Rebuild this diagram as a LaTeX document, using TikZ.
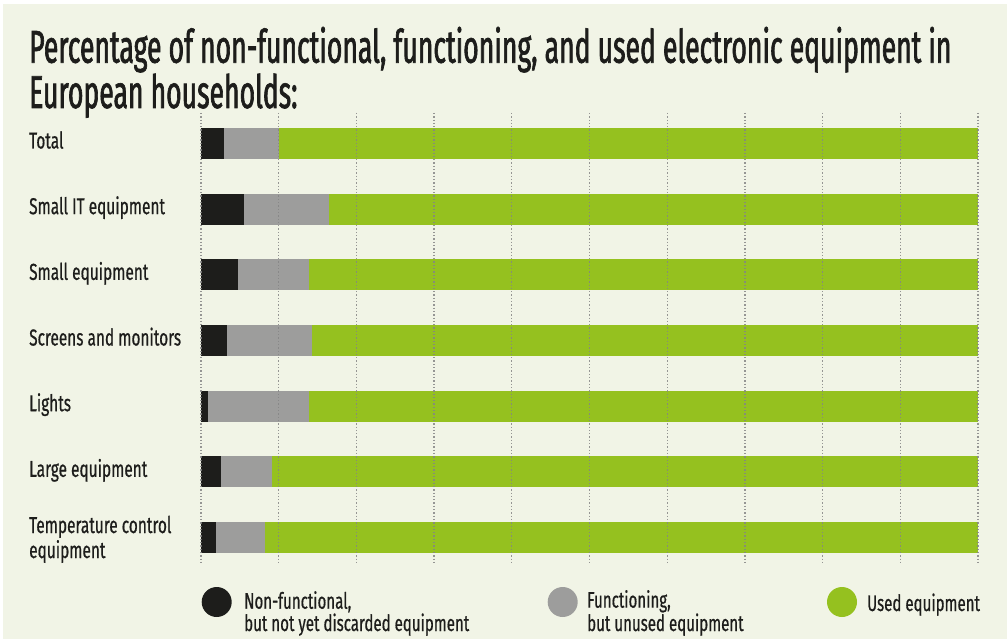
\documentclass[tikz,border=0pt]{standalone}
\usepackage{fontspec}
\setmainfont{Fira Sans}[FakeStretch=0.67, FakeBold=0.6]
\newfontfamily\titlefont{Fira Sans}[FakeStretch=0.578, FakeBold=1.4]
\definecolor{bgcream}{HTML}{F1F4E6}
\definecolor{inkdark}{HTML}{1D1D1B}
\definecolor{unusedgrey}{HTML}{9D9D9C}
\definecolor{usedgreen}{HTML}{95C11F}
\tikzset{
    cat label/.style={anchor=base west, align=left, text=inkdark, inner sep=0pt,
        font=\fontsize{23}{25}\selectfont},
    key label/.style={anchor=base west, align=left, text=inkdark, inner sep=0pt,
        font=\fontsize{22.5}{20}\selectfont},
    grid line/.style={unusedgrey!85!black, line width=1.3pt, dash pattern=on 1.3pt off 2pt, opacity=0.85},
    key dot/.style={circle, minimum size=30pt, inner sep=0pt},
}

\begin{document}
\begin{tikzpicture}[x=1pt,y=-1pt]
\useasboundingbox (0,0) rectangle (1007,639);
\fill[white] (0,0) rectangle (1007,639);
\fill[bgcream] (3,4) rectangle (1007,639);

\node[anchor=base west, align=left, text=inkdark, inner sep=0pt,
      font=\titlefont\fontsize{46}{44}\selectfont] (title) at (29,108)
    {Percentage of non-functional, functioning, and used electronic equipment in\\European households:};

% bars: broken share, end of unused share (percent)
\foreach \name/\txt/\broken/\unused [count=\i from 0] in {
    total/{Total}/3.0/10.0,
    smallit/{Small IT equipment}/5.5/16.5,
    small/{Small equipment}/4.8/13.9,
    screens/{Screens and monitors}/3.3/14.3,
    lights/{Lights}/0.9/13.9,
    large/{Large equipment}/2.6/9.1,
    temp/{Temperature control\\equipment}/1.9/8.2}
{
    \pgfmathsetmacro\top{128+65.67*\i}
    \fill[usedgreen] (201,\top) rectangle (978,\top+31);
    \fill[unusedgrey] (201,\top) rectangle ({201+7.77*\unused},\top+31);
    \fill[inkdark] (201,\top) rectangle ({201+7.77*\broken},\top+31);
    \ifnum\i<6
        \node[cat label] (\name) at (29,\top+20.5) {\txt};
    \else
        \node[cat label] (\name) at (29,\top+36) {\txt};
    \fi
}

\foreach \k in {0,...,10}
    \draw[grid line] ({201+77.7*\k},113) -- ({201+77.7*\k},565);

% legend
\node[key dot, fill=inkdark] (dot-broken) at (216.7,602) {};
\node[key label] (key-broken) at (244,631) {Non-functional,\\but not yet discarded equipment};
\node[key dot, fill=unusedgrey] (dot-unused) at (562.7,602) {};
\node[key label] (key-unused) at (587,631) {Functioning,\\but unused equipment};
\node[key dot, fill=usedgreen] (dot-used) at (842,602) {};
\node[key label] (key-used) at (867,611) {Used equipment};
\end{tikzpicture}
\end{document}
